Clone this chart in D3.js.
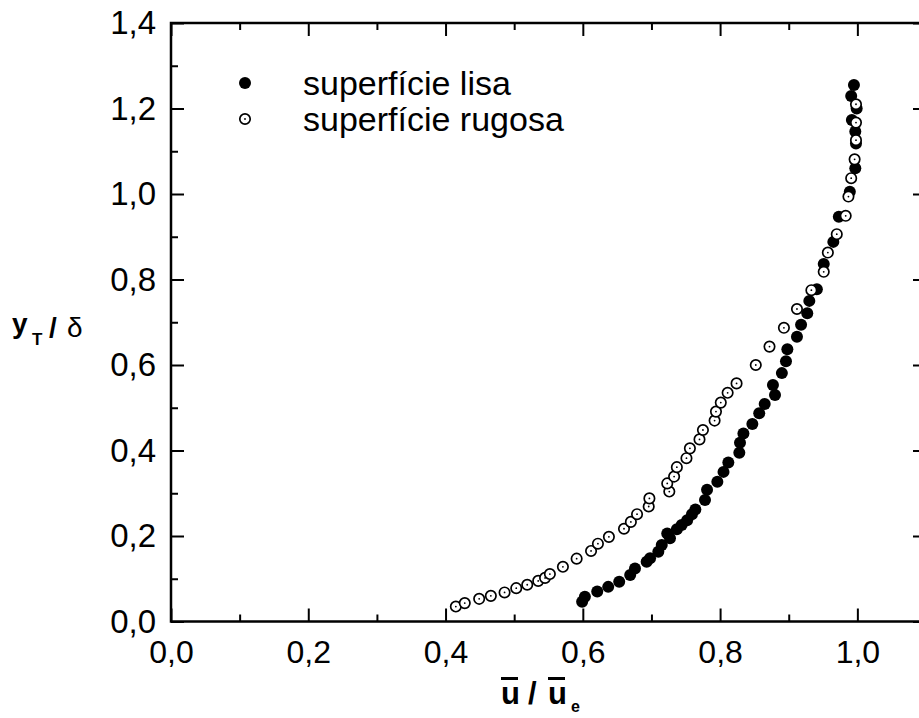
<!DOCTYPE html>
<html><head><meta charset="utf-8">
<script src="https://cdn.jsdelivr.net/npm/d3@7"></script>
<style>body{margin:0;background:#fff}svg{display:block}</style>
</head><body>
<svg id="c" width="919" height="718"></svg>
<script>
// ---- data ----
const lisaU = [0.599,0.603,0.621,0.637,0.653,0.669,0.676,0.693,0.698,0.710,0.715,0.723,0.727,0.737,0.744,0.752,0.759,0.764,0.778,0.781,0.796,0.805,0.812,0.828,0.829,0.834,0.847,0.857,0.865,0.880,0.877,0.890,0.896,0.898,0.912,0.918,0.927,0.930,0.941,0.951,0.965,0.973,0.989,0.997,0.998,0.997,0.992,0.999,0.991,0.995];
const lisaY = [0.046,0.058,0.070,0.081,0.093,0.109,0.124,0.140,0.148,0.163,0.179,0.206,0.195,0.216,0.226,0.237,0.251,0.262,0.284,0.308,0.327,0.350,0.372,0.395,0.418,0.440,0.462,0.487,0.509,0.530,0.553,0.581,0.609,0.637,0.666,0.694,0.721,0.750,0.777,0.836,0.888,0.947,1.005,1.060,1.118,1.146,1.173,1.200,1.229,1.255];
const rugU = [0.415,0.428,0.449,0.466,0.486,0.503,0.519,0.535,0.545,0.552,0.571,0.591,0.612,0.622,0.638,0.660,0.670,0.679,0.696,0.697,0.726,0.723,0.733,0.737,0.751,0.756,0.770,0.775,0.792,0.794,0.801,0.811,0.824,0.852,0.872,0.893,0.912,0.933,0.951,0.957,0.970,0.983,0.987,0.991,0.996,0.998,0.998,0.998];
const rugY = [0.035,0.043,0.053,0.060,0.068,0.078,0.086,0.095,0.102,0.111,0.128,0.147,0.165,0.182,0.198,0.217,0.233,0.251,0.269,0.288,0.304,0.323,0.339,0.361,0.382,0.405,0.426,0.448,0.470,0.491,0.512,0.535,0.557,0.600,0.643,0.687,0.731,0.775,0.818,0.863,0.906,0.949,0.994,1.037,1.081,1.126,1.167,1.210];
const seriesNames = ["superfície lisa","superfície rugosa"];
const xMajor = [0,0.2,0.4,0.6,0.8,1.0];
const xMinor = [0.1,0.3,0.5,0.7,0.9];
const yMajor = [0,0.2,0.4,0.6,0.8,1.0,1.2,1.4];
const yMinor = [0.1,0.3,0.5,0.7,0.9,1.1,1.3];
const xDomain = [0,1.1];
const yDomain = [0,1.4];

// ---- layout ----
const L=171, R=926, T=23, B=621.5;
const svg = d3.select("#c");
const x = d3.scaleLinear().domain(xDomain).range([L,R]);
const y = d3.scaleLinear().domain(yDomain).range([B,T]);
const fmt = d => d3.format(".1f")(d).replace(".",",");
const FONT = "'Liberation Sans', Arial, sans-serif";

function styleAxis(g){
  g.select(".domain").remove();
  g.selectAll("line").attr("stroke","#000").attr("stroke-width",2);
  g.selectAll("text").attr("font-family",FONT).attr("fill","#000");
}
// bottom
svg.append("g").attr("transform",`translate(0,${B})`)
  .call(d3.axisBottom(x).tickValues(xMajor).tickSize(-13).tickPadding(19).tickFormat(fmt))
  .call(styleAxis).selectAll("text").attr("font-size",32);
svg.append("g").attr("transform",`translate(0,${B})`)
  .call(d3.axisBottom(x).tickValues(xMinor).tickSize(-7).tickFormat(""))
  .call(styleAxis);
// top
svg.append("g").attr("transform",`translate(0,${T})`)
  .call(d3.axisTop(x).tickValues(xMajor).tickSize(-13).tickFormat(""))
  .call(styleAxis);
svg.append("g").attr("transform",`translate(0,${T})`)
  .call(d3.axisTop(x).tickValues(xMinor).tickSize(-7).tickFormat(""))
  .call(styleAxis);
// left
svg.append("g").attr("transform",`translate(${L},0)`)
  .call(d3.axisLeft(y).tickValues(yMajor).tickSize(-13).tickPadding(15).tickFormat(fmt))
  .call(styleAxis).selectAll("text").attr("font-size",33);
svg.append("g").attr("transform",`translate(${L},0)`)
  .call(d3.axisLeft(y).tickValues(yMinor).tickSize(-7).tickFormat(""))
  .call(styleAxis);
// right
svg.append("g").attr("transform",`translate(${R},0)`)
  .call(d3.axisRight(y).tickValues(yMajor).tickSize(-13).tickFormat(""))
  .call(styleAxis);
svg.append("g").attr("transform",`translate(${R},0)`)
  .call(d3.axisRight(y).tickValues(yMinor).tickSize(-7).tickFormat(""))
  .call(styleAxis);
// frame
svg.append("rect").attr("x",L).attr("y",T).attr("width",R-L).attr("height",B-T)
  .attr("fill","none").attr("stroke","#000").attr("stroke-width",2.5);

// ---- data marks ----
const lisa = lisaU.map((u,i)=>({u,v:lisaY[i]}));
const rug = rugU.map((u,i)=>({u,v:rugY[i]}));
svg.append("g").selectAll("circle").data(lisa).join("circle")
  .attr("cx",d=>x(d.u)).attr("cy",d=>y(d.v)).attr("r",6).attr("fill","#000");
const rg = svg.append("g").selectAll("g").data(rug).join("g")
  .attr("transform",d=>`translate(${x(d.u)},${y(d.v)})`);
rg.append("circle").attr("r",5.2).attr("fill","#fff").attr("stroke","#000").attr("stroke-width",1.7);
rg.append("circle").attr("r",0.9).attr("fill","#000");

// ---- legend ----
const lg = svg.append("g");
lg.append("circle").attr("cx",245).attr("cy",83).attr("r",6).attr("fill","#000");
lg.append("circle").attr("cx",245).attr("cy",119).attr("r",5.2).attr("fill","#fff").attr("stroke","#000").attr("stroke-width",1.7);
lg.append("circle").attr("cx",245).attr("cy",119).attr("r",0.9).attr("fill","#000");
lg.selectAll("text").data(seriesNames).join("text")
  .attr("x",303).attr("y",(d,i)=>83+i*36).attr("dy","0.35em")
  .attr("font-family",FONT).attr("font-size",34).text(d=>d);

// ---- axis titles ----
const yt = svg.append("g").attr("font-family",FONT).attr("fill","#000");
yt.append("text").attr("x",12).attr("y",333).attr("font-size",28).attr("font-weight","bold").text("y");
yt.append("text").attr("x",32).attr("y",345).attr("font-size",17).attr("font-weight","bold").text("T");
yt.append("text").attr("x",49).attr("y",337).attr("font-size",28).attr("font-weight","bold").text("/");
yt.append("text").attr("x",67).attr("y",337).attr("font-size",28).text("δ");

const xt = svg.append("g").attr("font-family",FONT).attr("font-weight","bold").attr("fill","#000");
const xs = [{t:"u",x:501,bar:true},{t:"/",x:528,bar:false},{t:"u",x:548,bar:true}];
xs.forEach(s=>{
  xt.append("text").attr("x",s.x).attr("y",704).attr("font-size",31).text(s.t);
  if(s.bar) xt.append("rect").attr("x",s.x).attr("y",677).attr("width",17).attr("height",3);
});
xt.append("text").attr("x",571).attr("y",712).attr("font-size",16).text("e");
</script>
</body></html>
